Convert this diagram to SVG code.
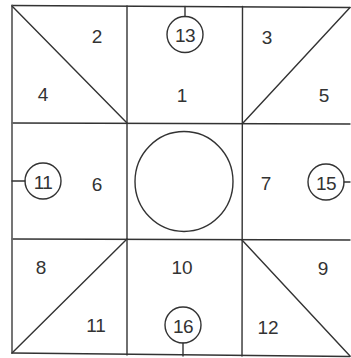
<svg xmlns="http://www.w3.org/2000/svg" width="351" height="358" viewBox="0 0 351 358">
<style>
.ln{stroke:#333;stroke-width:1.4;fill:none;stroke-linecap:round}
.c{stroke:#333;stroke-width:1.4;fill:none}
.t{font-family:"Liberation Sans",Arial,sans-serif;font-size:19px;fill:#333;text-anchor:middle;dominant-baseline:central}
.tc{font-family:"Liberation Sans",Arial,sans-serif;font-size:19px;fill:#333;text-anchor:middle;dominant-baseline:central;letter-spacing:-0.5px}
</style>
<rect width="351" height="358" fill="#fff"/>
<g id="connectors">
<line class="ln" x1="12" y1="5.5" x2="350" y2="7.5"/>
<line class="ln" x1="12" y1="123" x2="350" y2="124"/>
<line class="ln" x1="12" y1="239" x2="350" y2="240"/>
<line class="ln" x1="12" y1="353" x2="350" y2="356.5"/>
<line class="ln" x1="12" y1="5.5" x2="12" y2="353" style="stroke:#666;stroke-width:1.8"/>
<line class="ln" x1="127" y1="6" x2="127" y2="355"/>
<line class="ln" x1="242.5" y1="6.5" x2="242" y2="356"/>
<line class="ln" x1="12" y1="6" x2="127" y2="123"/>
<line class="ln" x1="242.5" y1="123.5" x2="350" y2="7.5"/>
<line class="ln" x1="12" y1="353" x2="127" y2="239"/>
<line class="ln" x1="242" y1="240" x2="350" y2="356"/>
<line class="ln" x1="185" y1="6.5" x2="185" y2="16.5"/>
<line class="ln" x1="12" y1="181" x2="25" y2="181"/>
<line class="ln" x1="344" y1="182" x2="350" y2="182"/>
<line class="ln" x1="183" y1="343" x2="183" y2="356"/>
</g>
<g id="center-circle"><ellipse class="c" cx="184" cy="181.5" rx="49" ry="50"/></g>
<g id="n13"><circle class="c" cx="185" cy="34.5" r="18"/><text class="tc" x="185" y="35">13</text></g>
<g id="n11c"><circle class="c" cx="43" cy="181" r="18"/><text class="tc" x="43" y="182">11</text></g>
<g id="n15"><circle class="c" cx="326" cy="182" r="18"/><text class="tc" x="326" y="183">15</text></g>
<g id="n16"><circle class="c" cx="183" cy="325" r="18"/><text class="tc" x="183" y="326">16</text></g>
<g id="labels">
<text class="t" x="97" y="36">2</text>
<text class="t" x="43" y="94">4</text>
<text class="t" x="182" y="95">1</text>
<text class="t" x="267" y="37">3</text>
<text class="t" x="324" y="95">5</text>
<text class="t" x="97" y="184">6</text>
<text class="t" x="266" y="183">7</text>
<text class="t" x="41" y="267">8</text>
<text class="t" x="96" y="325">11</text>
<text class="t" x="182" y="267">10</text>
<text class="t" x="323" y="268">9</text>
<text class="t" x="268" y="327">12</text>
</g>
</svg>
